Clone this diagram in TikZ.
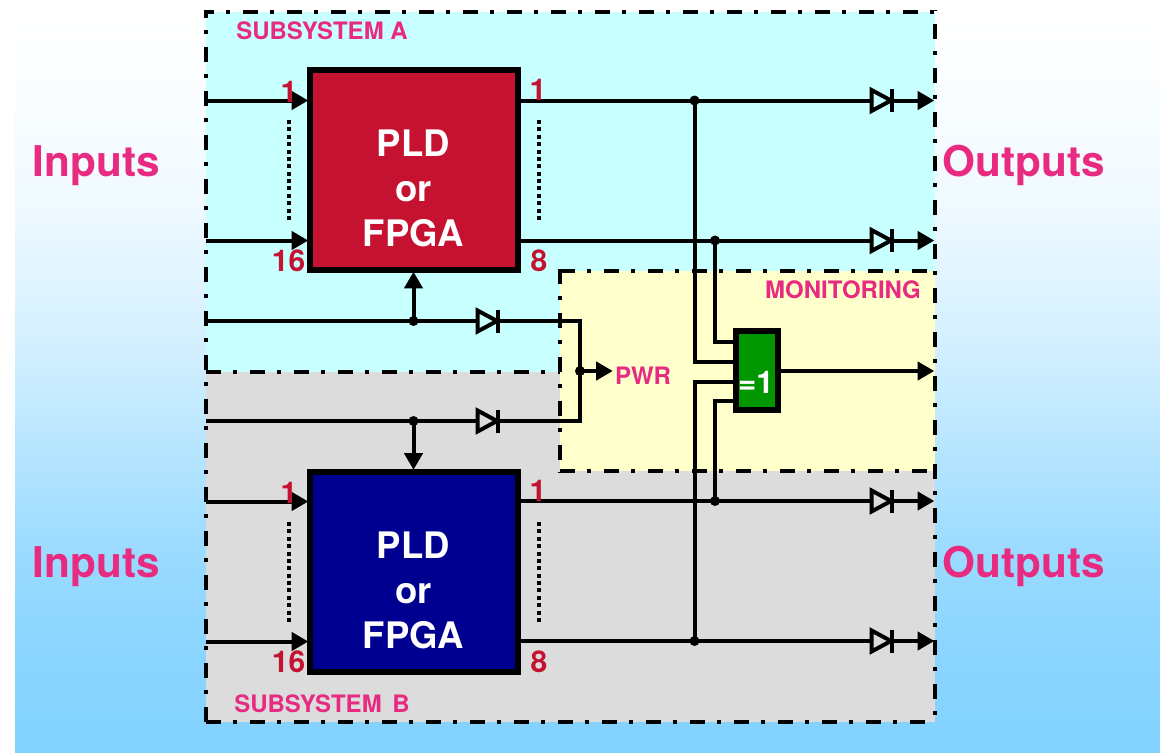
\documentclass[tikz,border=0pt]{standalone}
\usepackage{fontspec}
\setmainfont{TeX Gyre Heros}
\usetikzlibrary{arrows.meta,calc}
\definecolor{pinkT}{RGB}{232,42,128}
\definecolor{redT}{RGB}{196,18,48}
\definecolor{blueB}{RGB}{0,0,144}
\definecolor{greenB}{RGB}{0,150,0}
\definecolor{cyanB}{RGB}{200,255,255}
\definecolor{greyB}{RGB}{220,220,220}
\definecolor{yellowB}{RGB}{255,255,204}
\definecolor{skyB}{RGB}{130,210,255}
\pgfdeclareverticalshading{bgshade}{100bp}{
  color(0bp)=(skyB); color(25bp)=(skyB);
  color(31.9bp)=(skyB!93!white);
  color(38.6bp)=(skyB!80!white);
  color(52bp)=(skyB!36!white);
  color(62.1bp)=(skyB!12!white);
  color(71.5bp)=(skyB!2!white);
  color(75bp)=(white); color(100bp)=(white)}
\tikzset{
  x=0.75pt,y=-0.75pt,
  zone/.style={line width=3.3pt,dash pattern=on 11.25pt off 9pt on 3pt off 9.75pt},
  wire/.style={line width=3pt,line cap=butt},
  arr/.style={wire,shorten >=-1pt,-{Triangle[length=12.5pt,width=13.5pt]}},
  pld/.style={draw=black,line width=4.5pt,minimum width=156pt,minimum height=150pt,inner sep=0pt},
  pldtext/.style={text=white,align=center,inner sep=0pt,font=\fontsize{27.4}{33.75}\selectfont\bfseries},
  gate/.style={draw=black,fill=greenB,line width=4.5pt,minimum width=31.5pt,minimum height=59pt,inner sep=0pt},
  bigl/.style={text=pinkT,font=\fontsize{31.75}{36}\selectfont\bfseries,inner sep=0pt,anchor=base},
  smalll/.style={text=pinkT,font=\fontsize{18}{22}\selectfont\bfseries,inner sep=0pt,anchor=base},
  num/.style={text=redT,font=\fontsize{22.5}{26}\selectfont\bfseries,inner sep=0pt,anchor=base},
  dott/.style={line width=3pt,dash pattern=on 3pt off 2.54pt},
  jdot/.style={circle,fill=black,minimum size=7.5pt,inner sep=0pt},
}
\newcommand{\diode}[3]{% name, x-y position, interior colour
  \coordinate (#1) at (#2);
  \fill[#3,draw=black,line width=3pt,line join=miter] ($(#1)+(-9.5,-10.5)$) -- ($(#1)+(10,0)$) -- ($(#1)+(-9.5,10.5)$) -- cycle;
  \draw[line width=3pt] ($(#1)+(11,-11.5)$) -- ($(#1)+(11,11.5)$);
}
\begin{document}
\begin{tikzpicture}
\useasboundingbox (0,0) rectangle (1160,753);
\shade[shading=bgshade] (15,8) rectangle (1160,753);
% zones
\fill[cyanB] (206,12) rectangle (935,372);
\fill[greyB] (206,372) rectangle (935,722);
\fill[yellowB] (560,271) rectangle (935,471);
\draw[zone,dash phase=6.75pt] (206,12) -- (206,724);
\draw[zone,dash phase=3.75pt] (204,12) -- (935,12);
\draw[zone,dash phase=22.5pt] (935,10) -- (935,724);
\draw[zone] (206,722) -- (935,722);
\draw[zone] (206,372) -- (560,372);
\draw[zone] (560,271) -- (935,271);
\draw[zone] (560,269) -- (560,473);
\draw[zone] (560,471) -- (935,471);
% boxes
\node[pld,fill=redT] (pa) at (414,170) {};
\node[pld,fill=blueB] (pb) at (414,571.5) {};
\node[pldtext] (pat) at (413.5,188) {PLD\\or\\FPGA};
\node[pldtext] (pbt) at (413.5,590) {PLD\\or\\FPGA};
\node[gate] (g) at (757,370.5) {};
% free ends
\coordinate (ia1) at (206,100.5); \coordinate (ia2) at (206,240.5);
\coordinate (ib1) at (206,501.5); \coordinate (ib2) at (206,641.5);
\coordinate (sa) at (206,321); \coordinate (sb) at (206,421);
\coordinate (oa1) at (933,100.5); \coordinate (oa2) at (933,240.5);
\coordinate (ob1) at (933,501); \coordinate (ob2) at (933,641);
\coordinate (om) at (933,371);
\coordinate (pw) at (611.5,371);
\node[jdot] (ja1) at (694.5,100.5) {};
\node[jdot] (ja2) at (715,240.5) {};
\node[jdot] (jb1) at (715,501) {};
\node[jdot] (jb2) at (694.5,641) {};
\node[jdot] (js1) at (413.5,321) {};
\node[jdot] (js2) at (413.5,421) {};
\node[jdot] (jp) at (580,371) {};
% inputs
\draw[arr] (ia1) -- (ia1-|pa.west);
\draw[arr] (ia2) -- (ia2-|pa.west);
\draw[arr] (ib1) -- (ib1-|pb.west);
\draw[arr] (ib2) -- (ib2-|pb.west);
% outputs
\draw[arr] (ja1-|pa.east) -- (oa1|-ja1);
\draw[arr] (ja2-|pa.east) -- (oa2|-ja2);
\draw[arr] (jb1-|pb.east) -- (ob1|-jb1);
\draw[arr] (jb2-|pb.east) -- (ob2|-jb2);
\draw[arr] (g.east|-om) -- (om);
% supply
\draw[wire,line join=miter] (sa) -- (580,321) -- (jp.center);
\draw[wire,line join=miter] (sb) -- (580,421) -- (jp.center);
\draw[arr] (js1.center) -- (js1.center|-pa.south);
\draw[arr] (js2.center) -- (js2.center|-pb.north);
\draw[arr] (jp.center) -- (pw);
% monitoring wires
\draw[wire,line join=miter] (ja1.center) -- (ja1.center|-0,361.5) -- (g.west|-0,361.5);
\draw[wire,line join=miter] (ja2.center) -- (ja2.center|-0,341.5) -- (g.west|-0,341.5);
\draw[wire,line join=miter] (jb1.center) -- (jb1.center|-0,401) -- (g.west|-0,401);
\draw[wire,line join=miter] (jb2.center) -- (jb2.center|-0,381.5) -- (g.west|-0,381.5);
% diodes
\diode{d1}{881,100.5}{cyanB}
\diode{d2}{881,240.5}{cyanB}
\diode{d3}{881,501}{greyB}
\diode{d4}{881,641}{greyB}
\diode{d5}{487,321}{cyanB}
\diode{d6}{487,421}{greyB}
% dotted
\draw[dott] (289.3,120) -- (289.3,220);
\draw[dott] (539,120) -- (539,220);
\draw[dott] (289.3,522) -- (289.3,622);
\draw[dott] (539,522) -- (539,622);
% labels
\node[bigl] (l1) at (96.5,176) {Inputs};
\node[bigl] (l2) at (96.5,577) {Inputs};
\node[bigl] (l3) at (1023.5,176) {Outputs};
\node[bigl] (l4) at (1023.5,577) {Outputs};
\node[smalll] (s1) at (322,39) {SUBSYSTEM A};
\node[smalll] (s2) at (322,712) {SUBSYSTEM\, B};
\node[smalll] (s3) at (843,298) {MONITORING};
\node[smalll] (s4) at (643,384) {PWR};
\node[num] (n1) at (289,102) {1};
\node[num] (n2) at (288.5,271) {16};
\node[num] (n3) at (538,100) {1};
\node[num] (n4) at (539,271) {8};
\node[num] (n5) at (289,503) {1};
\node[num] (n6) at (288.5,672) {16};
\node[num] (n7) at (538,501) {1};
\node[num] (n8) at (539,672) {8};
\node[text=white,font=\fontsize{23.5}{26}\selectfont\bfseries,inner sep=0pt,anchor=base] (eq) at (756,393) {=1};
\end{tikzpicture}
\end{document}
